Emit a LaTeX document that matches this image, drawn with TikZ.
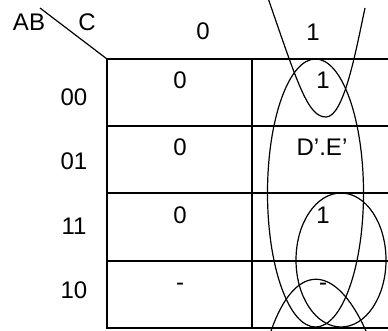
\documentclass[tikz,border=0pt]{standalone}
\usepackage{fontspec}
\setmainfont{Liberation Sans}
\begin{document}
\begin{tikzpicture}[x=1pt,y=-1pt,
  lbl/.style={inner sep=0pt,text height=0.716em,text depth=0pt,font=\fontsize{24}{28}\selectfont},
  grid/.style={line width=1.8pt},
  loop/.style={line width=1.2pt}]
\useasboundingbox (0,0) rectangle (388,330);
% grid
\draw[grid] (107,59) -- (388,59);
\draw[grid] (107,126) -- (388,126);
\draw[grid] (107,193) -- (388,193);
\draw[grid] (107,261) -- (388,261);
\draw[grid] (107,328) -- (388,328);
\draw[grid] (107,58) -- (107,329);
\draw[grid] (252,58) -- (252,329);
% corner diagonal
\coordinate (d1) at (40,8);
\coordinate (d2) at (107,59);
\draw[loop] (d1) -- (d2);
% headers
\node[lbl] (ab) at (29,27) {AB};
\node[lbl] (c) at (87,27) {C};
\node[lbl] (h0) at (203,36) {0};
\node[lbl] (h1) at (313,37) {1};
% row labels
\node[lbl] (r00) at (74,102) {00};
\node[lbl] (r01) at (74,166) {01};
\node[lbl] (r11) at (74,231) {11};
\node[lbl] (r10) at (74,295) {10};
% cells
\node[lbl] (a0) at (180,85) {0};
\node[lbl] (a1) at (180,152) {0};
\node[lbl] (a2) at (180,220) {0};
\node[lbl] (a3) at (180,287) {-};
\node[lbl] (b0) at (323,85) {1};
\node[lbl] (b1) at (322,152) {D’.E’};
\node[lbl] (b2) at (323,220) {1};
\node[lbl] (b3) at (323,287) {-};
% loops
\draw[loop] (268,-2) .. controls (298,85) and (308,117) .. (326,117)
  .. controls (344,117) and (356,50) .. (365,8);
\draw[loop] (315.5,193) ellipse [x radius=48, y radius=134];
\draw[loop] (341,260) ellipse [x radius=45, y radius=67];
\draw[loop] (271,331) .. controls (295,262) and (335,262) .. (366,331);
\end{tikzpicture}
\end{document}
